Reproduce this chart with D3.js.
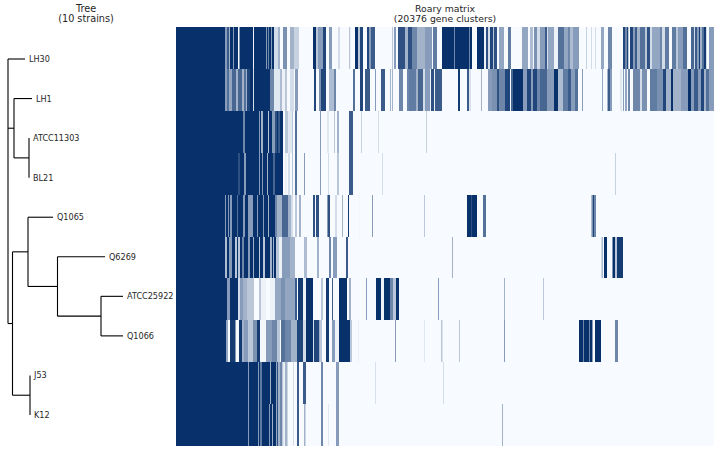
<!DOCTYPE html>
<html><head><meta charset="utf-8">
<script src="https://cdn.jsdelivr.net/npm/d3@7"></script>
<style>html,body{margin:0;padding:0;background:#fff}svg{display:block}text{font-family:"DejaVu Sans";fill:#262626}</style>
</head><body><svg id="c" width="721" height="456"></svg>
<script>
const strains = ["LH30","LH1","ATCC11303","BL21","Q1065","Q6269","ATCC25922","Q1066","J53","K12"];
const treeTitle = ["Tree","(10 strains)"];
const matrixTitle = ["Roary matrix","(20376 gene clusters)"];
const clusterCount = 20376;
const binCount = 538;
// [id, parent, branch length]
const treeEdges = [
 ["root",null,0],["LH30","root",17],["A","root",6],["LH1","A",18],["B","A",15],
 ["ATCC11303","B",0],["BL21","B",0],["C","root",4.5],["D","C",15.5],["Q1065","D",25],
 ["E","D",29.5],["Q6269","E",47.5],["F","E",43.5],["ATCC25922","F",22],["Q1066","F",22],
 ["G","C",17.5],["J53","G",0],["K12","G",0]];
// matrix stripes per strain: [first bin, last bin, fraction of genes present]
const rowLH30 = [[0,98,1],[49,51,.5],[51,53,.8],[53,54,.4],[57,58,.5],[62,63.5,0],[77,78,.1],[90,91,.5],[92,93,.6],[95,96,.5],[98,102,.2],[102,104,.4],[104,107,.05],[107,111,.55],[111,114,.05],[114,118,.4],[118,123,.25],[123,137,.02],[137,140,1],[140,142,.3],[142,147,.5],[147,150,.9],[150,153,.05],[153,156,.5],[156,162,.03],[162,164,.2],[164,173,.02],[173,174.5,.3],[174.5,179,.02],[179,182,1],[182,184,.3],[184,187,.9],[187,191,.05],[191,193,.9],[193,195,.5],[195,199,.8],[199,203,.03],[203,216,.03],[216,217,.3],[218,220,.5],[222,229,.85],[229,232,.4],[232,236,.85],[236,241,.6],[241,249,.4],[249,256,.5],[257,261,.65],[261,266,.03],[266,278,1],[278,279,.6],[279,293,1],[293,294,.6],[294,301,1],[301,308,1],[296,301,.02],[308,310,.1],[310,312,.85],[312,314,.2],[314,317,.9],[317,318,.3],[318,321,.85],[321,323,.05],[323,328,.45],[328,332,.04],[332,335,.65],[335,346,.03],[346,352,.45],[352,354,.05],[354,357,.35],[358,361,.55],[361,364,.2],[364,369,.5],[369,371,.8],[371,372,.2],[372,378,.45],[378,382,.1],[382,388,.7],[388,392,.45],[392,394,.6],[394,397,.35],[397,403,.5],[403,410,.02],[410,411,.25],[415,416,.2],[419,420,.2],[425,428,.45],[432,436,.6],[447,449,.9],[449,451,.6],[451,452,.9],[452,453,.3],[454,457,.9],[457,459,.5],[459,461,.8],[461,464,.4],[464,469,.7],[469,471,.3],[471,474,.85],[474,476,.2],[476,484,.45],[484,486,.6],[486,489,.2],[489,493,.65],[493,496,.05],[496,500,.65],[500,502,.3],[502,507,.5],[507,511,.7],[511,515,.05],[515,518,.75],[518,519,.2],[519,521,.8],[521,523,.5],[523,524,.95],[524,526,.4],[526,528,.7],[528,530,.95],[530,531,.2],[531,533,.05],[533,538,.5]];
const rowLH1 = [[0,94,1],[49,51,.5],[51,53,.7],[53,56,.45],[56,60,.75],[60,62,.4],[62,66,.75],[66,68,.4],[68,70,.7],[70,71,.4],[71,74,.9],[77,78,.2],[94,98,.6],[98,104,.15],[104,106,.35],[106,109,.1],[109,111,.3],[111,114,.05],[114,118,.2],[119,122,.5],[122,138,.03],[138,140,.9],[140,143,.05],[143,145,.55],[145,150,.9],[150,153,.05],[153,158,.35],[158,160,.6],[160,177,.03],[177,179,.7],[179,184,.03],[184,187,.9],[187,189,.05],[189,194,.8],[194,199,.04],[199,200,.5],[200,205,.03],[205,209,.8],[209,214,.03],[214,215,.4],[216,217,.4],[217,223,.03],[223,227,.6],[227,231,.05],[231,233,.6],[233,240,.65],[240,242,.4],[242,247,.75],[247,249,.2],[249,254,.5],[254,255,.1],[255,258,.85],[258,259,.1],[259,266,.8],[266,282,.02],[282,284,.95],[284,291,.02],[291,293,.8],[293,295,.18],[295,305,.02],[305,306,.4],[306,312,.02],[312,316,.5],[316,321,.55],[321,323,.85],[323,329,.6],[329,334,.9],[335,337,.75],[337,347,1],[347,351,.5],[351,355,.9],[355,357,.5],[357,361,.9],[361,364,.6],[364,371,.75],[371,378,.5],[378,382,1],[382,387,.35],[387,392,.65],[392,395,.8],[395,399,.5],[399,402,.7],[402,406,.02],[406,407,.5],[426,427,.45],[431,432,.4],[432,434,.8],[434,436,.5],[444,446,.15],[447,448,.5],[449,451,.45],[452,454,.6],[457,464,.6],[464,466,.2],[466,471,.55],[474,481,.65],[481,487,.55],[487,490,.9],[490,495,.4],[495,497,1],[497,505,.4],[505,512,.5],[512,515,1],[515,518,.5],[518,522,.8],[522,525,.5],[525,528,.9],[528,530,.4],[530,533,.7],[533,538,.5]];
const rowATCC11303 = [[0,107,1],[67,69,.6],[83,84,.5],[85,87,.4],[92,93,.3],[96,99,.5],[99,101,.85],[102,104,.8],[107,109,.03],[109,112,.3],[112,116,.15],[116,117,.3],[117,119,.02],[119,121,.7],[144,145,.5],[151,153,.15],[158,159,.3],[161,163,.4],[173,177,.8],[185,186,.25],[202,203,.2],[250,251,.25]];
const rowBL21 = [[0,107,1],[62,64,.85],[68,70,.5],[83,84,.5],[86,87,.5],[91,92,.4],[97,99,.75],[107,109,.03],[109,111,.1],[112,114,.2],[116,117,.3],[119,121,.7],[128,129,.5],[144,145,.5],[152,153,.2],[161,163,.3],[173,177,.8],[206,207,.2],[439,440,.25]];
const rowQ1065 = [[0,101,1],[49,50,.5],[52,53,.5],[54,56,.5],[61,62,.7],[67,69,.5],[72,77,.5],[81,82,.5],[87,88,.5],[92,93,.4],[99,101,.6],[101,106,.4],[106,112,.75],[112,115,.4],[115,117,.2],[117,119,.03],[119,121,.3],[121,123,.03],[123,125,.4],[125,137,.02],[137,139,.85],[139,140,.05],[140,143,.85],[143,151,.02],[151,152,.5],[152,154,.85],[154,159,.05],[159,161,.2],[161,166,.03],[166,167,.4],[167,172,.02],[172,173,.95],[183,184,.08],[196,197,.5],[221,222,.05],[248,249,.3],[291,301,1],[295,296,.85],[307,310,.7],[415,416.5,.35],[416.5,418,.9],[418,420,.6]];
const rowQ6269 = [[0,106,1],[49,51,.35],[53,56,.5],[59,61,.3],[62,64,.3],[66,68,.6],[72,74,.5],[77,78,.4],[83,84,.3],[87,89,.3],[94,96,.4],[97,98,.4],[100,103,.3],[103,106,.1],[106,114,.5],[114,119,.4],[119,128,.03],[128,131,.35],[131,141,.02],[141,143,.4],[143,153,.02],[153,155,.6],[155,157,.03],[157,161,.5],[161,170,.03],[170,172,.8],[276,277,.4],[425.5,427,.35],[428,431,1],[436.5,439,1],[439,441,.3],[441,447,.95]];
const rowATCC25922 = [[0,51,1],[51,54,.5],[54,62,1],[62,64,.2],[64,67,.5],[67,71,.4],[71,75,.3],[75,78,.3],[78,83,.02],[83,85,.3],[85,90,.1],[90,94,.03],[94,99,.1],[99,105,.45],[105,109,.55],[109,119,.45],[119,121,.8],[122,127,.95],[127,130,.1],[130,137,1],[137,145,.02],[145,147,.3],[147,150,.03],[150,153,.95],[153,156,.05],[156,157,.8],[157,163,.03],[163,171,1],[171,173,.02],[173,175,.4],[175,190,.02],[190,191,.5],[200,205,1],[205,208,.1],[208,214,1],[214,217,.6],[217,220,.3],[220,223,1],[262,263,.5],[328,329,.4],[367,368,.3]];
const rowQ1066 = [[0,50,1],[50,52,.45],[52,54,.05],[54,59,.95],[59,60,.5],[60,63,.05],[63,66,.95],[66,68,.4],[68,72,.5],[72,77,.3],[77,81,.55],[81,84,.95],[84,90,.08],[90,96,.5],[96,101,.6],[101,104,.3],[105,109,.7],[109,115,.6],[115,121,.4],[121,127,.9],[127,130,.2],[130,137,1],[137,138,.2],[138,143,.9],[143,144,.4],[144,146,.3],[146,150,.03],[150,153,.95],[153,156,.05],[156,159,.5],[159,163,.1],[163,174,1],[174,176,.3],[176,182,.02],[182,183,.1],[213,214,.05],[219,220,.5],[248,249,.15],[265,266.5,.3],[283,284,.3],[328,329,.5],[403,407,1],[407,408,.6],[408,413,1],[413,414,.6],[414,416,1],[416,417,.5],[419,425,1],[439,442,.6]];
const rowJ53 = [[0,100,1],[72,73,.5],[82,83,.5],[84.5,85.5,.3],[94,95,.4],[100.5,102,.85],[102,104,.4],[104,106,.6],[106,107.5,.3],[107.5,109,.1],[109,111.7,.4],[111.7,115,.05],[117,118,.2],[118,121,.03],[121,123,.8],[123,127,.03],[127,130,.8],[145,147,.6],[160,163,.5],[199,200,.18],[267,268,.2]];
const rowK12 = [[0,100,1],[72,73,.5],[82,83,.5],[84.5,85.5,.3],[93,94,.5],[96,97,.4],[100.5,102,.85],[102,104,.4],[104,106,.6],[106,107.5,.3],[107.5,109,.1],[109,111.7,.4],[111.7,115,.05],[117,118,.2],[121,123,.8],[128,129.5,.4],[145,147,.6],[152,153,.15],[160,163,.5],[326,327,.4]];
const matrixRows = [rowLH30,rowLH1,rowATCC11303,rowBL21,rowQ1065,rowQ6269,rowATCC25922,rowQ1066,rowJ53,rowK12];

const svg = d3.select("#c");
const low = "#f7fbff", high = "#08306b";
const color = d3.scaleLinear([0,.06,1],[low,low,high]);
const xBin = d3.scaleLinear([0,binCount],[176,714]);
const yRow = d3.scaleBand(strains,[27,446]);

// matrix
const g = svg.append("g");
g.append("rect").attr("x",xBin(0)).attr("y",yRow.range()[0]).attr("width",xBin(binCount)-xBin(0)).attr("height",yRow.range()[1]-yRow.range()[0]).attr("fill",low);
strains.forEach((s,i)=>{
  const top=Math.round(yRow(s)), bot=Math.round(yRow(s)+yRow.bandwidth());
  g.append("g").selectAll("rect").data(matrixRows[i].filter(d=>d[1]>d[0])).join("rect")
   .attr("x",d=>xBin(d[0])).attr("width",d=>xBin(d[1])-xBin(d[0]))
   .attr("y",top).attr("height",bot-top)
   .attr("fill",d=>color(d[2]));
});

// tree
const root = d3.stratify().id(d=>d[0]).parentId(d=>d[1])(treeEdges);
const xTree = d3.scaleLinear([0,115],[8,123]);
const yTip = d3.scaleLinear([0,strains.length-1],[59,415]);
root.eachBefore(n=>{n.dist=(n.parent?n.parent.dist:0)+n.data[2];});
root.eachAfter(n=>{
  if(!n.children) n.yy=yTip(strains.indexOf(n.id));
  else n.yy=(n.children[0].yy+n.children[n.children.length-1].yy)/2;
});
const t = svg.append("g").attr("fill","none").attr("stroke","#000").attr("stroke-width",1.1);
root.descendants().forEach(n=>{
  if(n.parent) t.append("line").attr("x1",xTree(n.parent.dist)).attr("x2",xTree(n.dist)).attr("y1",n.yy).attr("y2",n.yy);
  if(n.children) t.append("line").attr("x1",xTree(n.dist)).attr("x2",xTree(n.dist))
    .attr("y1",n.children[0].yy).attr("y2",n.children[n.children.length-1].yy);
});
svg.append("g").selectAll("text").data(root.leaves()).join("text")
  .attr("x",d=>xTree(d.dist)+4).attr("y",d=>d.yy+3)
  .attr("font-size",8.1).text(d=>d.id);

// titles
const title=(lines,x,size,ys)=>lines.forEach((l,i)=>svg.append("text").attr("x",x).attr("y",ys[i]).attr("text-anchor","middle").attr("font-size",size).text(l));
title(treeTitle,86,9.7,[11.5,22]);
title(matrixTitle,445,9.3,[12,21.5]);
</script></body></html>
